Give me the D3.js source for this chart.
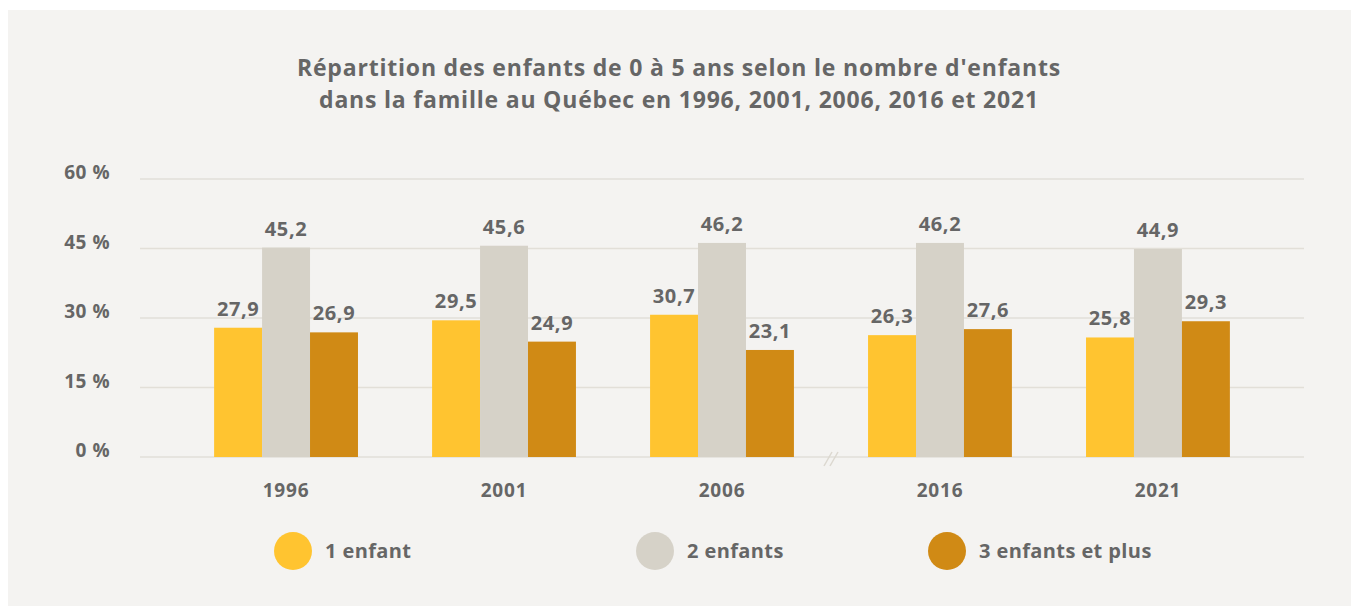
<!DOCTYPE html>
<html lang="fr">
<head>
<meta charset="utf-8">
<script src="https://cdn.jsdelivr.net/npm/d3@7"></script>
<style>
  body { margin: 0; background: #ffffff; }
  svg { display: block; font-family: "Open Sans", Lato, sans-serif; }
  .lbl { fill: #666666; font-weight: 700; }
</style>
</head>
<body>
<svg id="chart" width="1353" height="610"></svg>
<script>
// Données
const years = ["1996", "2001", "2006", "2016", "2021"];
const series = ["1 enfant", "2 enfants", "3 enfants et plus"];
const unEnfant = [27.9, 29.5, 30.7, 26.3, 25.8];
const deuxEnfants = [45.2, 45.6, 46.2, 46.2, 44.9];
const troisEtPlus = [26.9, 24.9, 23.1, 27.6, 29.3];
const yTicks = [0, 15, 30, 45, 60];
const titleLines = [
    "Répartition des enfants de 0 à 5 ans selon le nombre d'enfants",
    "dans la famille au Québec en 1996, 2001, 2006, 2016 et 2021"
];

const COLORS = ["#ffc430", "#d6d2c8", "#d08a15"];
const values = [unEnfant, deuxEnfants, troisEtPlus];

const svg = d3.select('#chart');

// panneau de fond
svg.append('rect')
    .attr('x', 8).attr('y', 10)
    .attr('width', 1343).attr('height', 596)
    .attr('fill', '#f4f3f1');

// titre
svg.append('g').selectAll('text')
    .data(titleLines)
    .enter().append('text')
    .attr('class', 'lbl')
    .attr('x', 679)
    .attr('y', (d, i) => 76 + i * 32)
    .attr('text-anchor', 'middle')
    .attr('font-size', 23)
    .attr('letter-spacing', 0.8)
    .text(d => d);

const x0 = d3.scaleBand()
    .domain(years)
    .range([140, 1304])
    .paddingInner(0.34)
    .paddingOuter(0.34);

const x1 = d3.scaleBand()
    .domain(d3.range(series.length))
    .range([0, x0.bandwidth()]);

const y = d3.scaleLinear()
    .domain([0, 60])
    .range([457, 179]);

// grille + axe y
const grid = svg.append('g');
grid.selectAll('line')
    .data(yTicks)
    .enter().append('line')
    .attr('x1', 140).attr('x2', 1304)
    .attr('y1', d => y(d)).attr('y2', d => y(d))
    .attr('stroke', '#e2dfd8')
    .attr('stroke-width', 1.5);

grid.selectAll('text')
    .data(yTicks)
    .enter().append('text')
    .attr('class', 'lbl')
    .attr('x', 110)
    .attr('y', d => y(d))
    .attr('text-anchor', 'end')
    .attr('font-size', 19)
    .attr('letter-spacing', 0.5)
    .text(d => d + ' %');

// barres
const groups = svg.append('g').selectAll('g')
    .data(years)
    .enter().append('g')
    .attr('transform', d => `translate(${x0(d)},0)`);

groups.selectAll('rect')
    .data((d, i) => values.map((v, s) => ({ s: s, v: v[i] })))
    .enter().append('rect')
    .attr('x', d => x1(d.s))
    .attr('width', x1.bandwidth())
    .attr('y', d => y(d.v))
    .attr('height', d => y(0) - y(d.v))
    .attr('fill', d => COLORS[d.s]);

groups.selectAll('text.val')
    .data((d, i) => values.map((v, s) => ({ s: s, v: v[i] })))
    .enter().append('text')
    .attr('class', 'lbl val')
    .attr('x', d => x1(d.s) + x1.bandwidth() / 2)
    .attr('y', d => y(d.v) - 12)
    .attr('text-anchor', 'middle')
    .attr('font-size', 20)
    .attr('letter-spacing', 0.6)
    .text(d => String(d.v).replace('.', ','));

// années
svg.append('g').selectAll('text')
    .data(years)
    .enter().append('text')
    .attr('class', 'lbl')
    .attr('x', d => x0(d) + x0.bandwidth() / 2)
    .attr('y', 497)
    .attr('text-anchor', 'middle')
    .attr('font-size', 19)
    .attr('letter-spacing', 0.8)
    .text(d => d);

// marque de rupture entre 2006 et 2016
const breakX = (x0('2006') + x0.bandwidth() + x0('2016')) / 2;
const brk = svg.append('g').attr('stroke', '#dcd8d0').attr('stroke-width', 1.5);
[-3, 3].forEach(dx => {
    brk.append('line')
        .attr('x1', breakX + dx - 4).attr('y1', y(0) + 9)
        .attr('x2', breakX + dx + 4).attr('y2', y(0) - 5);
});

// légende
const legendX = [293, 655, 947];
const legend = svg.append('g').selectAll('g')
    .data(series)
    .enter().append('g')
    .attr('transform', (d, i) => `translate(${legendX[i]},551)`);

legend.append('circle')
    .attr('r', 19)
    .attr('fill', (d, i) => COLORS[i]);

legend.append('text')
    .attr('class', 'lbl')
    .attr('x', 32)
    .attr('y', 7)
    .attr('font-size', 20)
    .attr('letter-spacing', 0.4)
    .text(d => d);
</script>
</body>
</html>
